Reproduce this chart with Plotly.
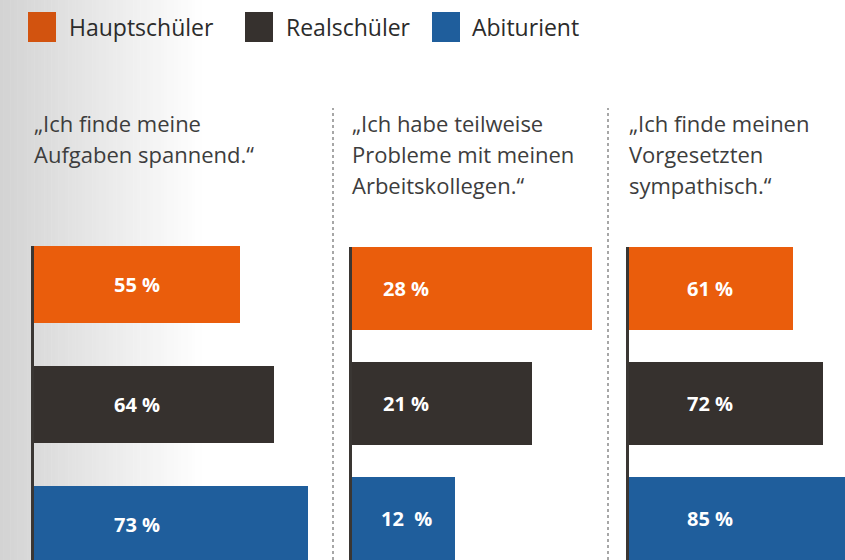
import plotly.graph_objects as go

# ---- data ----
series = ["Hauptschüler", "Realschüler", "Abiturient"]
colors = ["#EA5D0C", "#36312E", "#1F5E9C"]
legend_colors = ["#D2530F", "#36312E", "#1F5E9C"]
panel_titles = [
    ["„Ich finde meine", "Aufgaben spannend.“"],
    ["„Ich habe teilweise", "Probleme mit meinen", "Arbeitskollegen.“"],
    ["„Ich finde meinen", "Vorgesetzten", "sympathisch.“"],
]
values = [
    [55, 64, 73],
    [28, 21, 12],
    [61, 72, 85],
]
value_labels = [
    ["55 %", "64 %", "73 %"],
    ["28 %", "21 %", "12\u00a0 %"],
    ["61 %", "72 %", "85 %"],
]

W, H = 845, 560
FONT = "Open Sans"

# panel geometry (pixels)
panel_x0 = [34, 352, 629]        # bar baseline
panel_x1 = [333, 607, 845]       # right edge of panel plot area
px_per_unit = [3.75, 8.57, 2.69]  # scale of each panel
label_center_px = [137, 406, 710]
bar_top_px = [246, 247, 247]
first_center_px = [284.5, 288.5, 288.5]
pitch_px = [120, 115, 115]
bar_w = [0.64, 0.72, 0.72]

fig = go.Figure()

shapes = []
annotations = []

# background gradient on the left
n = 60
g_end = 205
for i in range(n):
    x0 = g_end * i / n
    x1 = g_end * (i + 1) / n + 0.5
    t = i / (n - 1)
    c = int(round(0xD3 + (0xFF - 0xD3) * t))
    shapes.append(dict(type="rect", xref="paper", yref="paper",
                       x0=x0 / W, x1=x1 / W, y0=0, y1=1,
                       fillcolor=f"rgb({c},{c},{c})", line=dict(width=0),
                       layer="below"))

for p in range(3):
    xa = "x" if p == 0 else f"x{p+1}"
    ya = "y" if p == 0 else f"y{p+1}"
    xkey = "xaxis" if p == 0 else f"xaxis{p+1}"
    ykey = "yaxis" if p == 0 else f"yaxis{p+1}"
    ypos = list(range(len(series)))
    for s in range(len(series)):
        fig.add_trace(go.Bar(
            x=[values[p][s]], y=[ypos[s]], orientation="h",
            marker=dict(color=colors[s], line=dict(width=0)),
            width=bar_w[p], xaxis=xa, yaxis=ya, showlegend=False,
            hoverinfo="skip",
        ))
        annotations.append(dict(
            x=(label_center_px[p] - panel_x0[p]) / px_per_unit[p], y=ypos[s],
            xref=xa, yref=ya, text=f"<b>{value_labels[p][s]}</b>",
            showarrow=False, font=dict(family=FONT, size=20, color="white"),
            xanchor="center", yanchor="middle"))
    xr = (panel_x1[p] - panel_x0[p]) / px_per_unit[p]
    fig.layout[xkey] = dict(domain=[panel_x0[p] / W, panel_x1[p] / W],
                            range=[0, xr], visible=False, fixedrange=True)
    top_units = -bar_w[p] / 2
    top_px = bar_top_px[p]
    bottom_units = (H - first_center_px[p]) / pitch_px[p]
    fig.layout[ykey] = dict(domain=[0, 1 - top_px / H],
                            range=[bottom_units, top_units],
                            anchor=xa, showline=True, linecolor="#3a3633",
                            linewidth=3, showticklabels=False, ticks="",
                            showgrid=False, zeroline=False, fixedrange=True)
    # titles
    for li, line in enumerate(panel_titles[p]):
        annotations.append(dict(
            x=(panel_x0[p] - 2) / W, y=1 - (123 + li * 31) / H,
            xref="paper", yref="paper", text=line, showarrow=False,
            xanchor="left", yanchor="middle",
            font=dict(family=FONT, size=22, color="#3d3d3d")))

# dotted separators
for sx in [333, 608]:
    shapes.append(dict(type="line", xref="paper", yref="paper",
                       x0=sx / W, x1=sx / W, y0=0, y1=1 - 108 / H,
                       line=dict(color="#8a8a8a", width=1.5, dash="dot")))

# custom legend
leg_sq_x = [28, 245, 432]
leg_txt_x = [67, 284, 470]
for s in range(len(series)):
    shapes.append(dict(type="rect", xref="paper", yref="paper",
                       x0=leg_sq_x[s] / W, x1=(leg_sq_x[s] + 28) / W,
                       y0=1 - 42 / H, y1=1 - 12 / H,
                       fillcolor=legend_colors[s], line=dict(width=0)))
    annotations.append(dict(
        x=leg_txt_x[s] / W, y=1 - 27 / H, xref="paper", yref="paper",
        text=series[s], showarrow=False, xanchor="left", yanchor="middle",
        font=dict(family=FONT, size=23, color="#2b2b2b")))

fig.update_layout(
    width=W, height=H,
    margin=dict(l=0, r=0, t=0, b=0),
    paper_bgcolor="white", plot_bgcolor="rgba(0,0,0,0)",
    barmode="overlay", bargap=0,
    shapes=shapes, annotations=annotations,
    showlegend=False,
)

fig.write_html("out.html", config={"displayModeBar": False},
               post_script="document.body.style.margin='0px';")
